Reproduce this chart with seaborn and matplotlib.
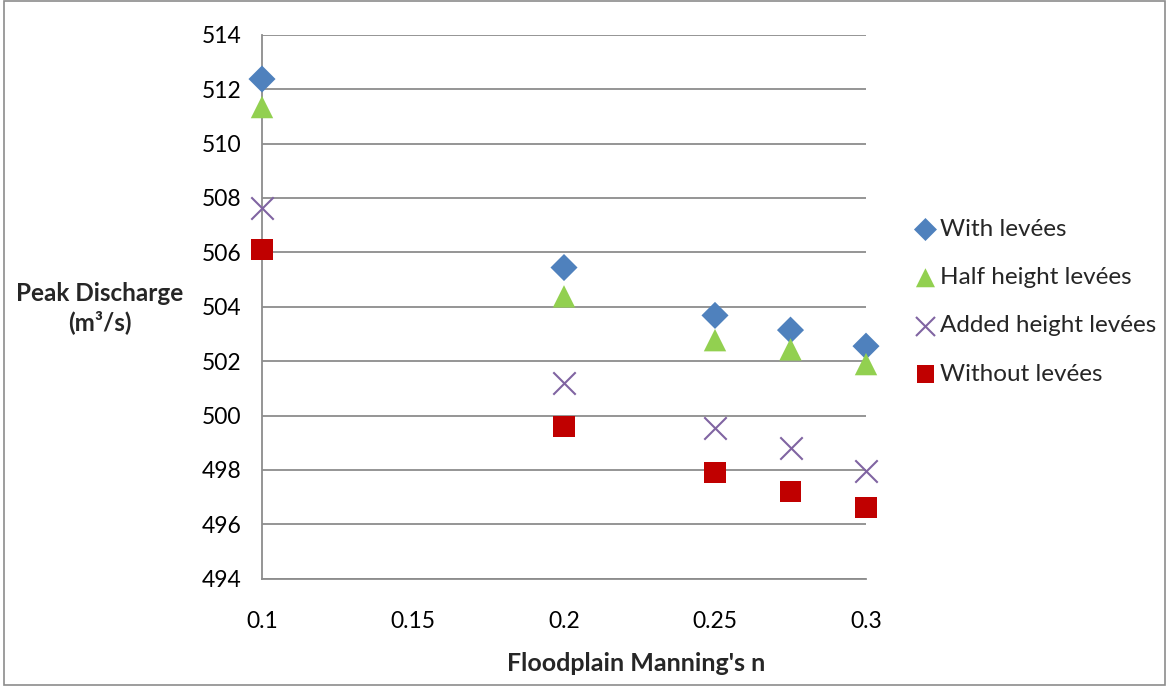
import numpy as np
import pandas as pd
import matplotlib
matplotlib.use("Agg")
import matplotlib.pyplot as plt
import seaborn as sns

# Daten
manning_n = [0.1, 0.2, 0.25, 0.275, 0.3]
with_levees = [512.37, 505.44, 503.68, 503.14, 502.55]
half_height = [511.34, 504.38, 502.77, 502.43, 501.89]
added_height = [507.64, 501.19, 499.55, 498.80, 497.95]
without_levees = [506.11, 499.61, 497.90, 497.19, 496.62]

series_names = ["With levées", "Half height levées", "Added height levées", "Without levées"]

df = pd.DataFrame({
    "n": manning_n * 4,
    "discharge": with_levees + half_height + added_height + without_levees,
    "series": [s for s in series_names for _ in manning_n],
})

#%% Style
sns.set_theme(style="white")
plt.rcParams["font.family"] = ["Lato", "DejaVu Sans"]

colors = {"With levées": "#4F81BD", "Half height levées": "#92D050",
          "Added height levées": "#8064A2", "Without levées": "#C00000"}
markers = {"With levées": "D", "Half height levées": "^",
           "Added height levées": "x", "Without levées": "s"}
msize = {"With levées": 190, "Half height levées": 260,
         "Added height levées": 260, "Without levées": 230}

fs = 16.5

fig = plt.figure(figsize=(11.69, 6.86), dpi=100)
ax = fig.add_axes([262 / 1169, 1 - 578.7 / 686, (866 - 262) / 1169, (578.7 - 34.7) / 686])

for name in series_names:
    sub = df[df["series"] == name]
    lw = 1.5 if markers[name] == "x" else 0
    sns.scatterplot(data=sub, x="n", y="discharge", ax=ax, color=colors[name],
                    marker=markers[name], s=msize[name], linewidth=lw,
                    edgecolor=colors[name] if lw else "none", label=name, zorder=3,
                    clip_on=False)

ax.set_xlim(0.1, 0.3)
ax.set_ylim(494, 514)
ax.set_xticks([0.1, 0.15, 0.2, 0.25, 0.3])
ax.set_xticklabels(["0.1", "0.15", "0.2", "0.25", "0.3"])
ax.set_yticks(np.arange(494, 515, 2))

ax.yaxis.grid(True, color="#8c8c8c", linewidth=1.3)
ax.xaxis.grid(False)
for side in ["top", "right"]:
    ax.spines[side].set_visible(False)
for side in ["left", "bottom"]:
    ax.spines[side].set_color("#8c8c8c")
    ax.spines[side].set_linewidth(1.3)

ax.tick_params(axis="both", which="major", labelsize=fs, colors="#8c8c8c",
               labelcolor="black", width=1.3)
ax.tick_params(axis="y", direction="out", length=7, pad=8)
ax.tick_params(axis="x", direction="out", length=7, pad=16)

ax.set_xlabel("Floodplain Manning's n", fontsize=18, fontweight="bold")
ax.xaxis.set_label_coords((636 - 262) / 604, -(652 - 578.7) / 544)
ax.set_ylabel("")
fig.text(100 / 1169, 1 - 308 / 686, "Peak Discharge\n(m³/s)", fontsize=17.5,
         fontweight="bold", ha="center", va="center", linespacing=1.3)

# Legende
ax.legend_.remove()
handles, labels = ax.get_legend_handles_labels()
fig.legend(handles, labels, loc="upper left", bbox_to_anchor=(889 / 1169, 1 - 197 / 686),
           frameon=False, fontsize=17.5, handletextpad=0.0, labelspacing=1.12,
           markerscale=0.85, handlelength=1.2)

# Rahmen um die ganze Grafik
fig.patches.append(plt.Rectangle((0.003, 0.002), 0.994, 0.996, transform=fig.transFigure,
                                 fill=False, edgecolor="#8c8c8c", linewidth=1.2))

fig.savefig("out.png", dpi=100)
